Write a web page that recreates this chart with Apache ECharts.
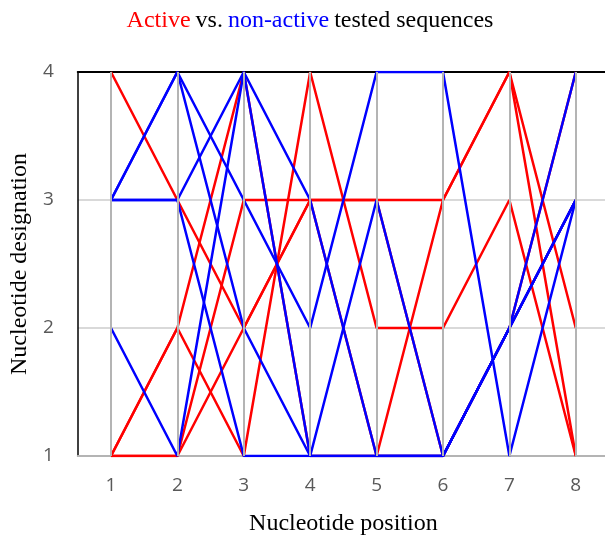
<!DOCTYPE html>
<html>
<head>
<meta charset="utf-8">
<script src="https://cdn.jsdelivr.net/npm/echarts@6/dist/echarts.min.js"></script>
<style>
  html, body { margin: 0; padding: 0; background: #fff; overflow: hidden; }
  #box { width: 609px; height: 541px; }
</style>
</head>
<body>
<div id="box"></div>
<script>
var positions = ['1', '2', '3', '4', '5', '6', '7', '8'];
var yTicks = [1, 2, 3, 4];

// active sequences (red)
var active1 = [4, 3, 2, 3, 3, 3, 4, 1];
var active2 = [1, 2, 4, 1, 1, 3, 4, 2];
var active3 = [1, 2, 1, 4, 2, 2, 3, 1];
var active4 = [1, 1, 3, 3, 1, 1, 2, 3];
var active5 = [1, 1, 2, 3, 3, 1, 2, 4];

// non-active sequences (blue)
var inactive1 = [3, 4, 3, 2, 4, 4, 1, 3];
var inactive2 = [3, 4, 2, 1, 3, 1, 2, 4];
var inactive3 = [3, 3, 4, 3, 1, 1, 2, 3];
var inactive4 = [3, 3, 1, 1, 1, 1, 2, 3];
var inactive5 = [2, 1, 4, 1, 1, 1, 2, 3];

var activeList = [active1, active2, active3, active4, active5];
var inactiveList = [inactive1, inactive2, inactive3, inactive4, inactive5];

var myChart = echarts.init(document.getElementById('box'));

var series = [];
// vertical grid lines at each position
series.push({
	type: 'line',
	data: [],
	silent: true,
	markLine: {
		silent: true,
		symbol: ['none', 'none'],
		label: { show: false },
		lineStyle: { color: '#b4b4b4', width: 2, type: 'solid' },
		data: positions.map(function (p) { return { xAxis: p }; })
	}
});
activeList.forEach(function (d, i) {
	series.push({
		name: 'Active ' + (i + 1),
		type: 'line',
		data: d,
		symbol: 'none',
		lineStyle: { color: '#ff0000', width: 2.5 },
		itemStyle: { color: '#ff0000' }
	});
});
inactiveList.forEach(function (d, i) {
	series.push({
		name: 'Non-active ' + (i + 1),
		type: 'line',
		data: d,
		symbol: 'none',
		lineStyle: { color: '#0000ff', width: 2.5 },
		itemStyle: { color: '#0000ff' }
	});
});

var serif = { fontFamily: 'Liberation Serif', fontSize: 24, fontWeight: 'normal' };

option = {
	animation: false,
	title: {
		text: '{r|Active} {k|vs.} {b|non-active} {k|tested sequences}',
		left: 305,
		textAlign: 'center',
		top: 4,
		textStyle: {
			fontWeight: 'normal',
			rich: {
				r: Object.assign({ color: '#ff0000' }, serif),
				b: Object.assign({ color: '#0000ff' }, serif),
				k: Object.assign({ color: '#000000' }, serif)
			}
		}
	},
	grid: {
		left: 77,
		right: 0,
		top: 72,
		bottom: 81
	},
	xAxis: [{
		type: 'category',
		data: positions,
		boundaryGap: true,
		name: 'Nucleotide position',
		nameLocation: 'middle',
		nameGap: 56,
		nameTextStyle: { fontFamily: 'Liberation Serif', fontSize: 24, color: '#000' },
		axisTick: { show: false },
		axisLine: { lineStyle: { color: '#b4b4b4', width: 2 } },
		axisLabel: { color: '#595959', fontSize: 19, fontFamily: 'Open Sans', margin: 20 },
		splitLine: { show: false }
	}, {
		type: 'category',
		data: positions,
		position: 'top',
		axisTick: { show: false },
		axisLabel: { show: false },
		axisLine: { lineStyle: { color: '#000', width: 2 } }
	}],
	yAxis: {
		type: 'value',
		min: 1,
		max: 4,
		interval: 1,
		name: 'Nucleotide designation',
		nameLocation: 'middle',
		nameGap: 43,
		nameTextStyle: { fontFamily: 'Liberation Serif', fontSize: 24, color: '#000' },
		axisLine: { show: true, lineStyle: { color: '#000', width: 1.5 } },
		axisTick: { show: false },
		axisLabel: { color: '#595959', fontSize: 19, fontFamily: 'Open Sans', margin: 24 },
		splitLine: { lineStyle: { color: '#d9d9d9', width: 2 } }
	},
	series: series
};
myChart.setOption(option);
</script>
</body>
</html>
